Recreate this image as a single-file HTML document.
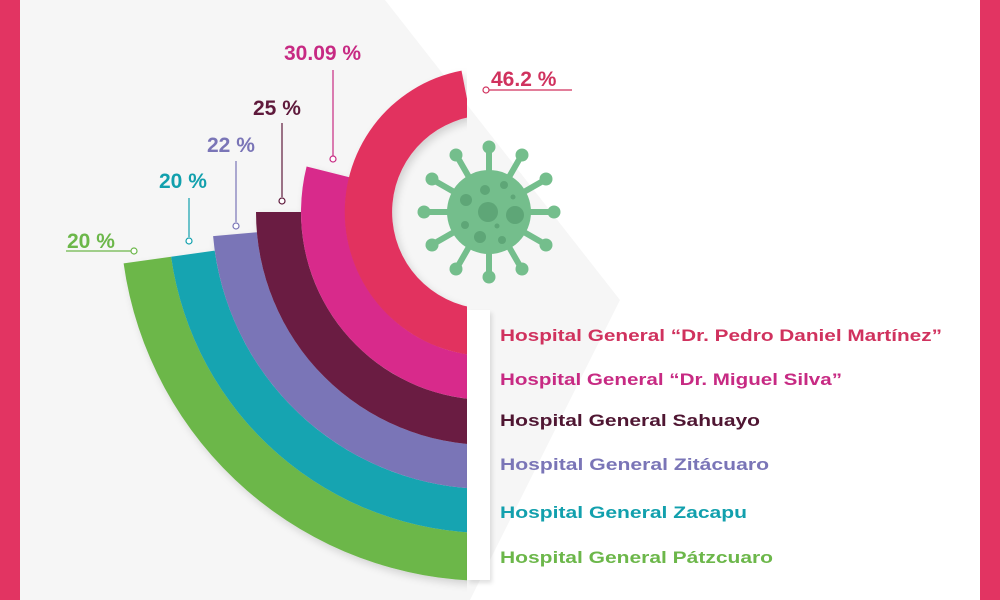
<!DOCTYPE html>
<html><head><meta charset="utf-8"><style>
html,body{margin:0;padding:0;width:1000px;height:600px;overflow:hidden;background:#fff}
svg{display:block}
</style></head><body>
<svg width="1000" height="600" viewBox="0 0 1000 600" xmlns="http://www.w3.org/2000/svg">
<defs>
<filter id="sh" x="-20%" y="-20%" width="140%" height="140%"><feDropShadow dx="3" dy="4" stdDeviation="4" flood-color="#000" flood-opacity="0.15"/></filter>
<filter id="sh2" x="-50%" y="-20%" width="200%" height="140%"><feDropShadow dx="2" dy="3" stdDeviation="2" flood-color="#000" flood-opacity="0.12"/></filter>
<clipPath id="cl"><rect x="0" y="0" width="467" height="600"/></clipPath>
</defs>
<rect width="1000" height="600" fill="#ffffff"/>
<polygon points="20,0 385,0 620,300 470,600 20,600" fill="#f6f6f6"/>
<rect x="0" y="0" width="20" height="600" fill="#e23462"/>
<rect x="980" y="0" width="20" height="600" fill="#e23462"/>

<g clip-path="url(#cl)" filter="url(#sh)">
<path d="M489,581 A369,369 0 0 1 123.6,263.4 L171.1,256.7 A321,321 0 0 0 489,533 Z" fill="#6cb74a"/>
<path d="M489,533 A321,321 0 0 1 171.1,256.7 L214.7,250.6 A277,277 0 0 0 489,489 Z" fill="#12a4b1"/>
<path d="M489,489 A277,277 0 0 1 213.1,236.1 L256.9,232.3 A233,233 0 0 0 489,445 Z" fill="#7a75b7"/>
<path d="M489,445 A233,233 0 0 1 256,212 L301,212 A188,188 0 0 0 489,400 Z" fill="#6a1c43"/>
<path d="M489,400 A188,188 0 0 1 306.6,166.5 L349.3,177.2 A144,144 0 0 0 489,356 Z" fill="#d82a8b"/>
<path d="M489,356 A144,144 0 0 1 461.5,70.6 L470.5,116.8 A97,97 0 0 0 489,309 Z" fill="#e2325f"/>
</g>

<g filter="url(#sh2)" fill="#fff">
<rect x="467" y="310" width="23" height="45"/>
<rect x="467" y="355" width="23" height="45"/>
<rect x="467" y="400" width="23" height="45"/>
<rect x="467" y="445" width="23" height="44"/>
<rect x="467" y="489" width="23" height="44"/>
<rect x="467" y="533" width="23" height="47"/>
</g>

<!-- virus -->
<g fill="#74be8c" stroke="#74be8c">
<g stroke-width="6" stroke-linecap="round">
<line x1="489" y1="212" x2="489" y2="150"/><line x1="489" y1="212" x2="489" y2="274"/>
<line x1="489" y1="212" x2="427" y2="212"/><line x1="489" y1="212" x2="551" y2="212"/>
<line x1="489" y1="212" x2="520" y2="158"/><line x1="489" y1="212" x2="458" y2="158"/>
<line x1="489" y1="212" x2="520" y2="266"/><line x1="489" y1="212" x2="458" y2="266"/>
<line x1="489" y1="212" x2="543" y2="181"/><line x1="489" y1="212" x2="435" y2="181"/>
<line x1="489" y1="212" x2="543" y2="243"/><line x1="489" y1="212" x2="435" y2="243"/>
</g>
<g stroke="none">
<circle cx="489" cy="147" r="6.5"/><circle cx="489" cy="277" r="6.5"/>
<circle cx="424" cy="212" r="6.5"/><circle cx="554" cy="212" r="6.5"/>
<circle cx="522" cy="155" r="6.5"/><circle cx="456" cy="155" r="6.5"/>
<circle cx="522" cy="269" r="6.5"/><circle cx="456" cy="269" r="6.5"/>
<circle cx="546" cy="179" r="6.5"/><circle cx="432" cy="179" r="6.5"/>
<circle cx="546" cy="245" r="6.5"/><circle cx="432" cy="245" r="6.5"/>
<circle cx="489" cy="212" r="42"/>
</g>
</g>
<g fill="#5ea677">
<circle cx="488" cy="212" r="10"/><circle cx="515" cy="215" r="9"/><circle cx="466" cy="200" r="6"/>
<circle cx="485" cy="190" r="5"/><circle cx="504" cy="185" r="4"/><circle cx="480" cy="237" r="6"/>
<circle cx="502" cy="240" r="4"/><circle cx="465" cy="225" r="4"/><circle cx="497" cy="226" r="2.5"/>
<circle cx="513" cy="197" r="2.5"/>
</g>

<!-- percentage labels -->
<g font-family="'Liberation Sans', sans-serif" font-weight="bold" font-size="21">
<text x="491" y="86" fill="#d0325e">46.2 %</text>
<line x1="489" y1="90" x2="572" y2="90" stroke="#d0325e" stroke-width="1.2"/>
<circle cx="486" cy="90" r="3" fill="#fff" stroke="#d0325e" stroke-width="1.2"/>

<text x="284" y="60" fill="#c72a83">30.09 %</text>
<line x1="333" y1="70" x2="333" y2="156" stroke="#c72a83" stroke-width="1.2"/>
<circle cx="333" cy="159" r="3" fill="#fff" stroke="#c72a83" stroke-width="1.2"/>

<text x="253" y="115" fill="#5f1a3c">25 %</text>
<line x1="282" y1="123" x2="282" y2="197" stroke="#5f1a3c" stroke-width="1.2"/>
<circle cx="282" cy="201" r="3" fill="#fff" stroke="#5f1a3c" stroke-width="1.2"/>

<text x="207" y="152" fill="#7a75b7">22 %</text>
<line x1="236" y1="161" x2="236" y2="222" stroke="#7a75b7" stroke-width="1.2"/>
<circle cx="236" cy="226" r="3" fill="#fff" stroke="#7a75b7" stroke-width="1.2"/>

<text x="159" y="188" fill="#12a0ad">20 %</text>
<line x1="189" y1="198" x2="189" y2="237" stroke="#12a0ad" stroke-width="1.2"/>
<circle cx="189" cy="241" r="3" fill="#fff" stroke="#12a0ad" stroke-width="1.2"/>

<text x="67" y="248" fill="#6cb74a">20 %</text>
<line x1="66" y1="251" x2="131" y2="251" stroke="#6cb74a" stroke-width="1.2"/>
<circle cx="134" cy="251" r="3" fill="#fff" stroke="#6cb74a" stroke-width="1.2"/>
</g>

<!-- legend -->
<g font-family="'Liberation Sans', sans-serif" font-weight="bold" font-size="17">
<text x="500" y="341" fill="#d0325e" textLength="442" lengthAdjust="spacingAndGlyphs">Hospital General “Dr. Pedro Daniel Martínez”</text>
<text x="500" y="385" fill="#c72a83" textLength="342" lengthAdjust="spacingAndGlyphs">Hospital General “Dr. Miguel Silva”</text>
<text x="500" y="426" fill="#4f1632" textLength="260" lengthAdjust="spacingAndGlyphs">Hospital General Sahuayo</text>
<text x="500" y="470" fill="#7a75b7" textLength="269" lengthAdjust="spacingAndGlyphs">Hospital General Zitácuaro</text>
<text x="500" y="518" fill="#12a0ad" textLength="247" lengthAdjust="spacingAndGlyphs">Hospital General Zacapu</text>
<text x="500" y="563" fill="#6cb74a" textLength="273" lengthAdjust="spacingAndGlyphs">Hospital General Pátzcuaro</text>
</g>
</svg>
</body></html>
